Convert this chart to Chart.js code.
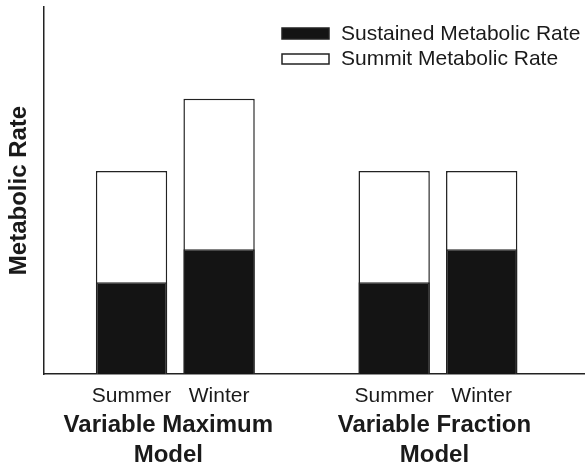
<!DOCTYPE html>
<html>
<head>
<meta charset="utf-8">
<script src="https://cdn.jsdelivr.net/npm/chart.js@4.4.1/dist/chart.umd.min.js"></script>
<style>
  html, body { margin: 0; padding: 0; background: #fff; }
</style>
</head>
<body>
<canvas id="chart" width="585" height="465"></canvas>
<script>
const seasons = ['Summer', 'Winter', 'Summer', 'Winter'];
const positions = [1, 2, 4, 5];
const groupPositions = [1.42, 4.46];
const groupLabels = [['Variable Maximum', 'Model'], ['Variable Fraction', 'Model']];
const sustained = [25, 34, 25, 34];
const summit = [55.3, 75, 55.3, 55.3];
const seriesNames = ['Sustained Metabolic Rate', 'Summit Metabolic Rate'];

const FONT = '"Liberation Sans", Arial, Helvetica, sans-serif';
const INK = '#1a1a1a';
Chart.defaults.font.family = FONT;
Chart.defaults.color = INK;

// legend sits inside the plot, boxes left-aligned on top of each other
const boxLegend = {
  id: 'boxLegend',
  afterDraw(chart) {
    const ctx = chart.ctx;
    ctx.save();
    ctx.font = '21px ' + FONT;
    ctx.textBaseline = 'middle';
    ctx.textAlign = 'left';
    chart.data.datasets.forEach((ds, i) => {
      const x = 282, y = 28 + i * 26, h = i === 0 ? 11 : 10;
      ctx.fillStyle = ds.backgroundColor;
      ctx.fillRect(x, y, 47, h);
      ctx.strokeStyle = ds.borderColor;
      ctx.lineWidth = 1.5;
      ctx.strokeRect(x, y, 47, h);
      ctx.fillStyle = INK;
      ctx.fillText(ds.label, 341, y + h / 2 + 0.5);
    });
    ctx.restore();
  }
};

const xMax = 6.18;

new Chart(document.getElementById('chart'), {
  type: 'bar',
  data: {
    datasets: [
      {
        label: seriesNames[0],
        data: positions.map((p, i) => ({x: p, y: sustained[i]})),
        backgroundColor: '#141414',
        borderColor: '#222',
        borderWidth: 1.5
      },
      {
        label: seriesNames[1],
        data: positions.map((p, i) => ({x: p, y: summit[i]})),
        backgroundColor: '#fff',
        borderColor: '#222',
        borderWidth: 1.5
      }
    ]
  },
  options: {
    responsive: false,
    animation: false,
    grouped: false,
    barPercentage: 0.815,
    categoryPercentage: 1,
    layout: {padding: {top: 7, right: 0, bottom: 0, left: 0}},
    plugins: {legend: {display: false}, tooltip: {enabled: false}},
    scales: {
      x: {
        type: 'linear',
        min: 0,
        max: xMax,
        offset: false,
        weight: 0,
        grid: {display: false, drawTicks: false},
        border: {display: true, color: '#222', width: 1.5},
        afterBuildTicks: (scale) => { scale.ticks = positions.map(v => ({value: v})); },
        afterFit: (scale) => { scale.height = 35; },
        ticks: {
          autoSkip: false, maxRotation: 0, minRotation: 0, padding: 10,
          font: {size: 21},
          callback: (v, i) => seasons[i]
        }
      },
      x2: {
        type: 'linear',
        position: 'bottom',
        min: 0,
        max: xMax,
        offset: false,
        weight: 1,
        grid: {display: false, drawTicks: false},
        border: {display: false},
        afterBuildTicks: (scale) => { scale.ticks = groupPositions.map(v => ({value: v})); },
        afterFit: (scale) => { scale.height = 56; },
        ticks: {
          autoSkip: false, maxRotation: 0, minRotation: 0, padding: 1,
          font: {size: 24, weight: 'bold', lineHeight: 1.25},
          callback: (v, i) => groupLabels[i]
        }
      },
      y: {
        min: 0,
        max: 100,
        grid: {display: false, drawTicks: false},
        border: {display: true, color: '#222', width: 1.5},
        ticks: {display: false},
        title: {
          display: true,
          text: 'Metabolic Rate',
          font: {size: 24, weight: 'bold', lineHeight: 1.2},
          padding: {top: 5, bottom: 10.2}
        }
      }
    }
  },
  plugins: [boxLegend]
});
</script>
</body>
</html>
